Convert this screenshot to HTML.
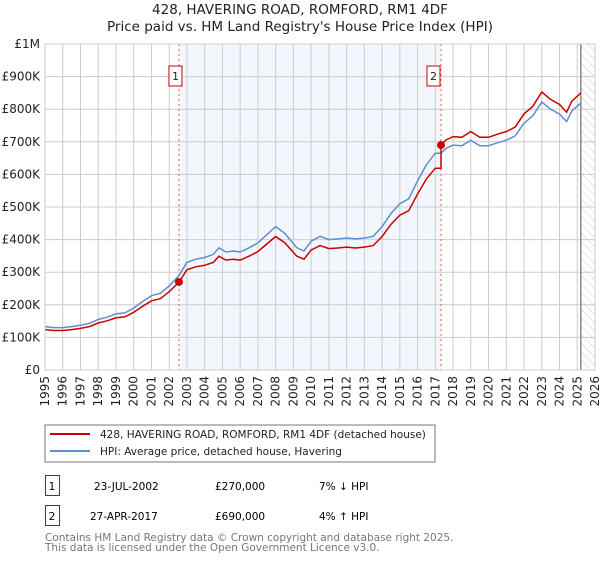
<!DOCTYPE html>
<html><head><meta charset="utf-8"><style>
body{margin:0;background:#fff;width:600px;height:560px;overflow:hidden;font-family:"DejaVu Sans","Liberation Sans",sans-serif}
svg text{font-family:"DejaVu Sans","Liberation Sans",sans-serif}
</style></head><body>
<svg id="c" width="600" height="560">
<defs><pattern id="hatch" width="6" height="6" patternUnits="userSpaceOnUse" patternTransform="rotate(-45)"><line x1="0" y1="0" x2="0" y2="6" stroke="#ccc" stroke-width="1"/></pattern></defs>
<text x="300" y="14" text-anchor="middle" font-size="13.5" fill="#222">428, HAVERING ROAD, ROMFORD, RM1 4DF</text>
<text x="300" y="31" text-anchor="middle" font-size="13.5" fill="#222">Price paid vs. HM Land Registry's House Price Index (HPI)</text>
<g id="plot"></g>
<rect x="45" y="425" width="390" height="37" fill="#fff" stroke="#777"/>
<line x1="50" y1="434" x2="90" y2="434" stroke="#cc0000" stroke-width="2"/>
<text x="100" y="438" font-size="10.5" fill="#222">428, HAVERING ROAD, ROMFORD, RM1 4DF (detached house)</text>
<line x1="50" y1="451" x2="90" y2="451" stroke="#5b8fd0" stroke-width="2"/>
<text x="100" y="455" font-size="10.5" fill="#222">HPI: Average price, detached house, Havering</text>
<g>
<rect x="45.5" y="475.5" width="14" height="20" fill="#fff" stroke="#cc0000"/>
<text x="52" y="490" font-size="10.5" text-anchor="middle">1</text>
<text x="94" y="490" font-size="10.5">23-JUL-2002</text>
<text x="215" y="490" font-size="10.5">£270,000</text>
<text x="319" y="490" font-size="10.5">7% ↓ HPI</text></g>
<g>
<rect x="45.5" y="505.5" width="14" height="20" fill="#fff" stroke="#cc0000"/>
<text x="52" y="520" font-size="10.5" text-anchor="middle">2</text>
<text x="90" y="520" font-size="10.5">27-APR-2017</text>
<text x="215" y="520" font-size="10.5">£690,000</text>
<text x="319" y="520" font-size="10.5">4% ↑ HPI</text></g>
<text x="45" y="541" font-size="10.5" fill="#777">Contains HM Land Registry data © Crown copyright and database right 2025.</text>
<text x="45" y="551" font-size="10.5" fill="#777">This data is licensed under the Open Government Licence v3.0.</text>
</svg>
<script>
const hpiYears=[1995,1995.5,1996,1996.5,1997,1997.5,1998,1998.5,1999,1999.5,2000,2000.5,2001,2001.5,2002,2002.55,2003,2003.5,2004,2004.5,2004.8,2005.2,2005.6,2006,2006.5,2007,2007.5,2008,2008.5,2009.2,2009.6,2010,2010.5,2011,2011.5,2012,2012.5,2013,2013.5,2014,2014.5,2015,2015.5,2016,2016.5,2017,2017.32,2017.6,2018,2018.5,2019,2019.5,2020,2020.5,2021,2021.5,2022,2022.5,2023,2023.5,2024,2024.4,2024.7,2025.2];
const hpiValues=[133,130,130,133,137,143,155,162,172,175,190,210,228,235,258,290,330,340,345,355,375,362,365,362,375,390,415,440,420,375,365,395,410,400,402,405,402,405,410,440,480,510,525,580,630,665,665,680,690,688,705,688,688,697,705,718,757,780,822,800,785,762,795,819];
const saleYears=[2002.55,2017.32];
const salePrices=[270,690];
const yTicks=[0,100,200,300,400,500,600,700,800,900,1000];
const yTickLabels=["£0","£100K","£200K","£300K","£400K","£500K","£600K","£700K","£800K","£900K","£1M"];
const xTicks=[1995,1996,1997,1998,1999,2000,2001,2002,2003,2004,2005,2006,2007,2008,2009,2010,2011,2012,2013,2014,2015,2016,2017,2018,2019,2020,2021,2022,2023,2024,2025,2026];
const X0=45,X1=595,Y0=370,Y1=44,dataEnd=2025.2;
const sx=v=>X0+(v-1995)/(2026-1995)*(X1-X0);
const sy=v=>Y0-v/1000*(Y0-Y1);
const NS="http://www.w3.org/2000/svg";
const g=document.getElementById('plot');
function mk(t,a,p){const e=document.createElementNS(NS,t);for(const k in a)e.setAttribute(k,a[k]);(p||g).appendChild(e);return e;}
function hpiAt(y){for(let i=1;i<hpiYears.length;i++){if(y<=hpiYears[i]){const t=(y-hpiYears[i-1])/(hpiYears[i]-hpiYears[i-1]);return hpiValues[i-1]+t*(hpiValues[i]-hpiValues[i-1]);}}return hpiValues[hpiValues.length-1];}
let e=mk('rect',{x:X0,y:Y1,width:X1-X0,height:Y0-Y1,fill:'#fff'});


e=mk('rect',{x:sx(saleYears[0]),y:Y1,width:sx(saleYears[1])-sx(saleYears[0]),height:Y0-Y1,fill:'#eef3fc',opacity:0.7});


e=mk('rect',{x:sx(dataEnd),y:Y1,width:X1-sx(dataEnd),height:Y0-Y1,fill:'url(#hatch)'});


xTicks.forEach(t=>{e=mk('line',{x1:sx(t),x2:sx(t),y1:Y1,y2:Y0,stroke:'#ccc'});


e=mk('text',{transform:`translate(${sx(t)+4},${Y0+6}) rotate(-90)`,'text-anchor':'end','font-size':12,fill:'#222'});e.textContent=t;

});
yTicks.forEach((t,i)=>{e=mk('line',{x1:X0,x2:X1,y1:sy(t),y2:sy(t),stroke:'#ccc'});


e=mk('text',{x:X0-5,y:sy(t)+4,'text-anchor':'end','font-size':12,fill:'#222'});e.textContent=yTickLabels[i];

});
e=mk('line',{x1:sx(dataEnd),x2:sx(dataEnd),y1:Y1,y2:Y0,stroke:'#888','stroke-width':1.5});


saleYears.forEach((s,i)=>{e=mk('line',{x1:sx(s),x2:sx(s),y1:Y1,y2:Y0,stroke:'#e06060','stroke-dasharray':'2,3'});

});
let hp=hpiYears.map((y,i)=>`${i?'L':'M'}${sx(y).toFixed(1)},${sy(hpiValues[i]).toFixed(1)}`).join('');
e=mk('path',{d:hp,fill:'none',stroke:'#5b8fd0','stroke-width':1.5});


const r1=salePrices[0]/hpiAt(saleYears[0]),r2=salePrices[1]/hpiAt(saleYears[1]);
let pts=[];
hpiYears.forEach((y,i)=>{if(y<saleYears[1])pts.push([y,hpiValues[i]*r1]);});
pts.push([saleYears[1],hpiAt(saleYears[1])*r1]);
pts.push([saleYears[1],salePrices[1]]);
hpiYears.forEach((y,i)=>{if(y>saleYears[1])pts.push([y,hpiValues[i]*r2]);});
e=mk('path',{d:pts.map((p,i)=>`${i?'L':'M'}${sx(p[0]).toFixed(1)},${sy(p[1]).toFixed(1)}`).join(''),fill:'none',stroke:'#cc0000','stroke-width':1.5});


saleYears.forEach((s,i)=>{e=mk('circle',{cx:sx(s),cy:sy(salePrices[i]),r:4,fill:'#cc0000'});


const bx=sx(s)-7-(i===0?3:7);
e=mk('rect',{x:bx,y:66,width:13,height:20,fill:'#fff',stroke:'#cc0000'});


e=mk('text',{x:bx+6.5,y:80,'text-anchor':'middle','font-size':11,fill:'#222'});e.textContent=i+1;

});
e=mk('rect',{x:X0,y:Y1,width:X1-X0,height:Y0-Y1,fill:'none',stroke:'#ccc'});


</script>
</body></html>
